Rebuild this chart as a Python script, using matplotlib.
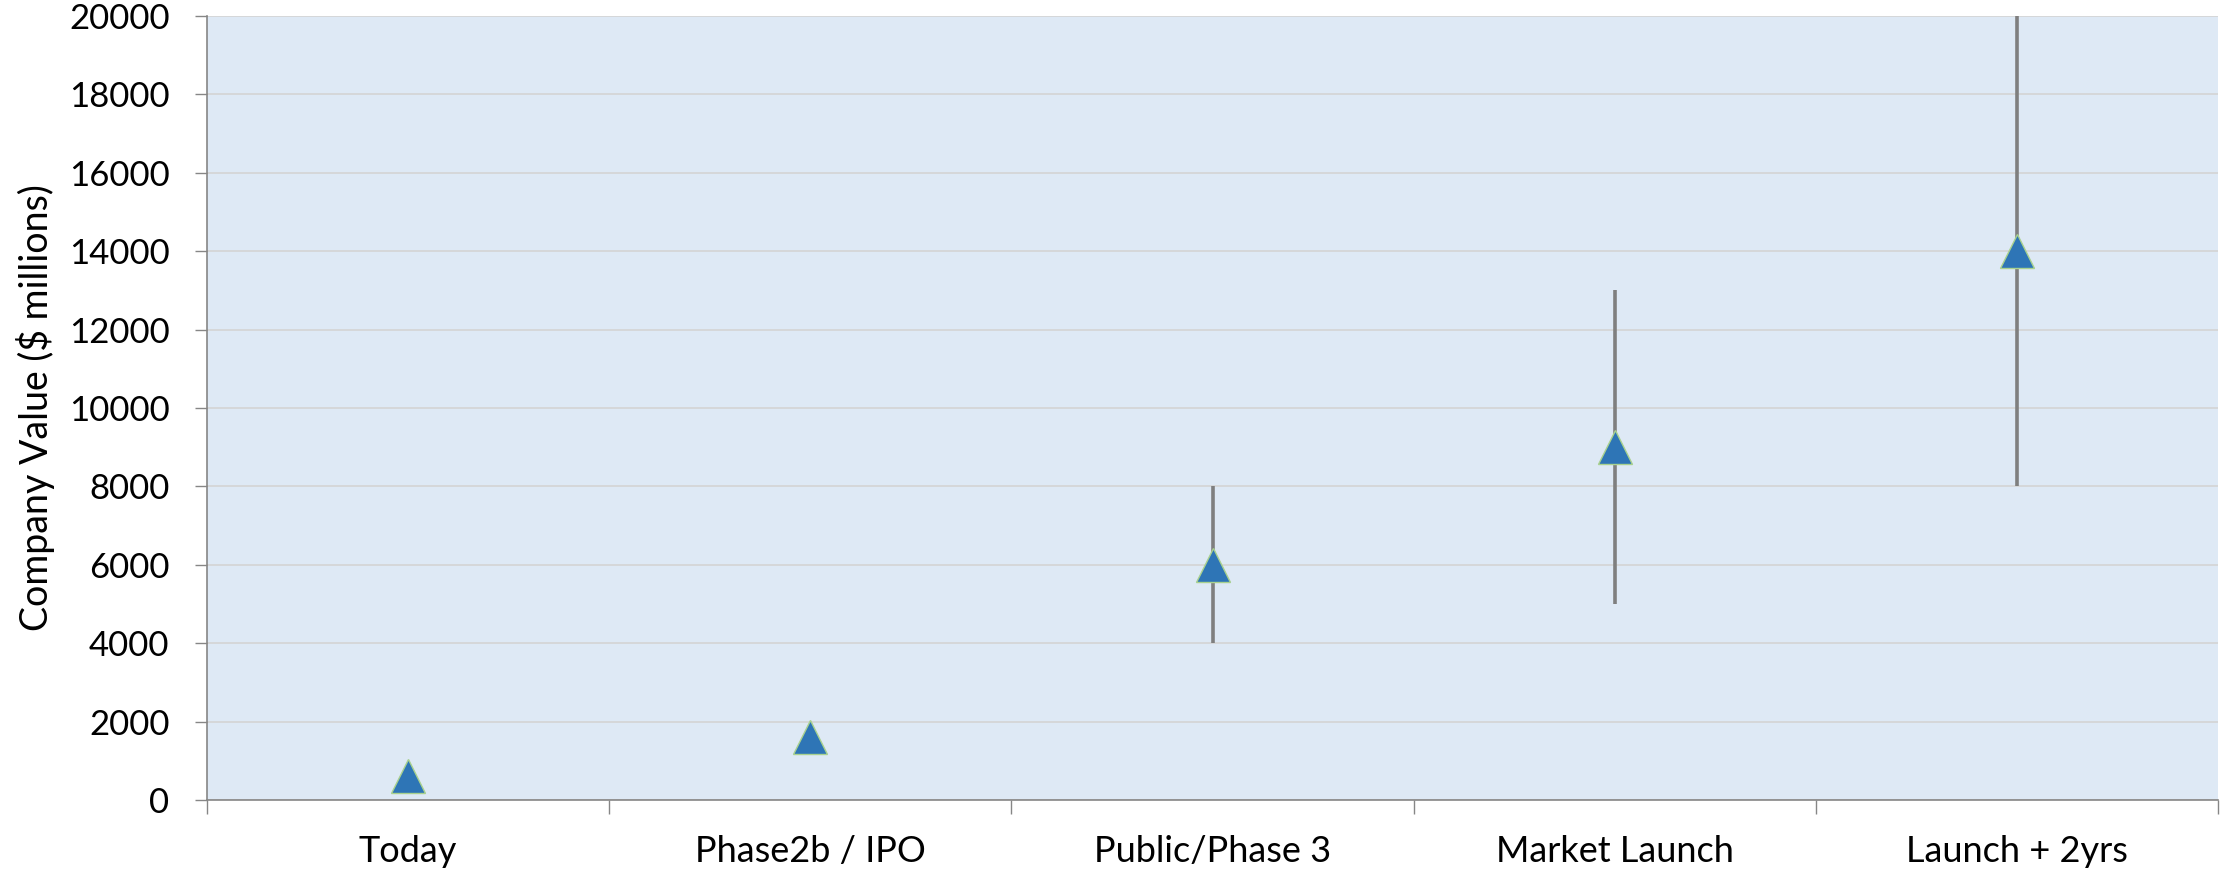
import numpy as np
import matplotlib.pyplot as plt

# Data
stages = ['Today', 'Phase2b / IPO', 'Public/Phase 3', 'Market Launch', 'Launch + 2yrs']
values = [600, 1600, 6000, 9000, 14000]
lows = [np.nan, np.nan, 4000, 5000, 8000]
highs = [np.nan, np.nan, 8000, 13000, 20000]
yticks = [0, 2000, 4000, 6000, 8000, 10000, 12000, 14000, 16000, 18000, 20000]

plt.rcParams['font.family'] = ['Lato', 'DejaVu Sans']

fig = plt.figure(figsize=(22.26, 8.75), dpi=100)
ax = fig.add_axes([0.093, 0.0857, 0.9034, 0.896])
ax.set_facecolor('#DEE9F5')

x = np.arange(len(stages))
ax.vlines(x, lows, highs, color='#7F7F7F', linewidth=2.6, zorder=3)
ax.plot(x, values, linestyle='none', marker='^', markersize=24,
        markerfacecolor='#2E75B6', markeredgecolor='#A9D18E', markeredgewidth=1, zorder=4)

ax.set_xlim(-0.5, len(stages) - 0.5)
ax.set_ylim(0, 20000)
ax.set_yticks(yticks)
ax.set_yticklabels([str(t) for t in yticks])
ax.grid(axis='y', color='#D4D4D4', linewidth=1.2)
ax.set_axisbelow(True)

# category labels at centres, tick marks at boundaries
ax.set_xticks(x)
ax.set_xticklabels(stages)
ax.set_xticks(np.arange(-0.5, len(stages)), minor=True)
ax.tick_params(axis='x', which='major', length=0, pad=25, labelsize=26)
ax.tick_params(axis='x', which='minor', length=10, width=1, color='#868686', direction='out')
ax.tick_params(axis='y', length=9, width=1, color='#868686', pad=18, labelsize=25)

for s in ['top', 'right']:
    ax.spines[s].set_visible(False)
for s in ['left', 'bottom']:
    ax.spines[s].set_color('#868686')
    ax.spines[s].set_linewidth(1.2)

fig.text(36 / 2226, 0.534, 'Company Value ($ millions)', rotation=90,
         ha='center', va='center', fontsize=27)

fig.savefig('out.png', dpi=100)
